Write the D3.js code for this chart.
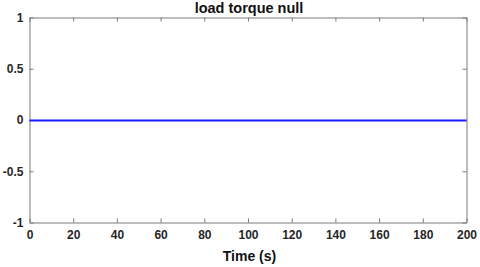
<!DOCTYPE html>
<html><head><meta charset="utf-8">
<script src="https://cdn.jsdelivr.net/npm/d3@7"></script>
<style>body{margin:0;background:#fff}svg{display:block}</style>
</head><body>
<script>
const title = "load torque null";
const xLabel = "Time (s)";
const xTicks = [0,20,40,60,80,100,120,140,160,180,200];
const yTicks = [-1,-0.5,0,0.5,1];
const timeValues = [0, 200];
const torqueValues = [0, 0];

const W=480,H=267;
const L=29.5,R=466.5,T=17.5,B=222.5;
const svg=d3.select("body").append("svg").attr("width",W).attr("height",H);
const x=d3.scaleLinear().domain([0,200]).range([L,R]);
const y=d3.scaleLinear().domain([-1,1]).range([B,T]);
const font="Liberation Sans, Arial, sans-serif";
const axisCol="#7a7a7a";
const fmt=d=>String(d).replace("\u2212","-");

const gx=svg.append("g").attr("transform",`translate(0,${B})`)
 .call(d3.axisBottom(x).tickValues(xTicks).tickSizeInner(-4).tickSizeOuter(0).tickPadding(8).tickFormat(fmt));
const gxt=svg.append("g").attr("transform",`translate(0,${T})`)
 .call(d3.axisTop(x).tickValues(xTicks).tickSizeInner(-4).tickSizeOuter(0).tickFormat(""));
const gy=svg.append("g").attr("transform",`translate(${L},0)`)
 .call(d3.axisLeft(y).tickValues(yTicks).tickSizeInner(-4).tickSizeOuter(0).tickPadding(6).tickFormat(fmt));
const gyr=svg.append("g").attr("transform",`translate(${R},0)`)
 .call(d3.axisRight(y).tickValues(yTicks).tickSizeInner(-4).tickSizeOuter(0).tickFormat(""));
[gx,gxt,gy,gyr].forEach(g=>{
  g.selectAll("path,line").attr("stroke",axisCol).attr("stroke-width",1);
  g.selectAll("text").attr("fill","#262626").style("font-family",font).style("font-size","12px").style("font-weight","bold");
});

const data=timeValues.map((t,i)=>({t,v:torqueValues[i]}));
svg.append("path").datum(data).attr("fill","none").attr("stroke","#1a1aff").attr("stroke-width",2)
 .attr("transform","translate(0,0.5)")
 .attr("d",d3.line().x(d=>x(d.t)).y(d=>y(d.v)));

svg.append("text").attr("x",249).attr("y",13).attr("text-anchor","middle")
 .style("font-family",font).style("font-size","14.5px").style("font-weight","bold").attr("fill","#111").text(title);
svg.append("text").attr("x",249.5).attr("y",261).attr("text-anchor","middle")
 .style("font-family",font).style("font-size","14px").style("font-weight","bold").attr("fill","#111").text(xLabel);
</script>
</body></html>
